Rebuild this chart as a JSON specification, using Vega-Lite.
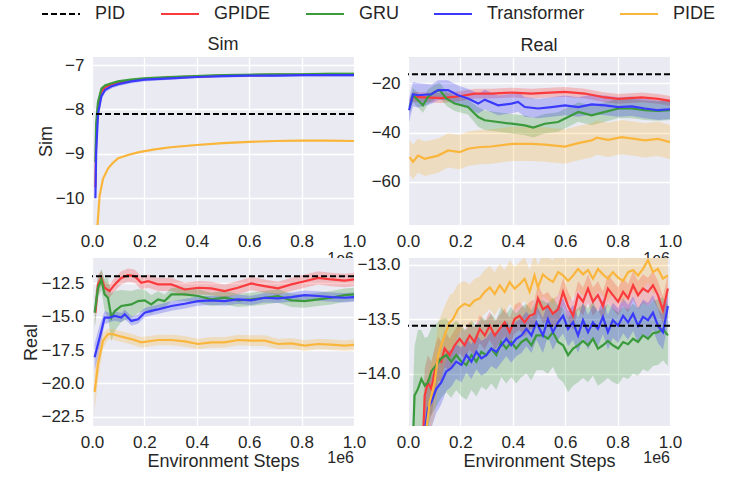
{
"$schema":"https://vega.github.io/schema/vega-lite/v6.json",
"padding":{"left":22,"top":-6,"right":5,"bottom":5},
"background":"white",
"datasets":{
"a":[
{"m":"GPIDE","x":0.013,"y":-9.75,"lo":-9.85,"hi":-9.65},{"m":"GPIDE","x":0.016,"y":-8.6,"lo":-8.68,"hi":-8.52},{"m":"GPIDE","x":0.023,"y":-7.95,"lo":-7.99,"hi":-7.91},{"m":"GPIDE","x":0.036,"y":-7.6,"lo":-7.63,"hi":-7.57},{"m":"GPIDE","x":0.05,"y":-7.5,"lo":-7.52,"hi":-7.48},{"m":"GPIDE","x":0.075,"y":-7.44,"lo":-7.46,"hi":-7.42},{"m":"GPIDE","x":0.1,"y":-7.4,"lo":-7.42,"hi":-7.38},{"m":"GPIDE","x":0.15,"y":-7.35,"lo":-7.37,"hi":-7.33},{"m":"GPIDE","x":0.2,"y":-7.32,"lo":-7.34,"hi":-7.3},{"m":"GPIDE","x":0.3,"y":-7.28,"lo":-7.3,"hi":-7.26},{"m":"GPIDE","x":0.4,"y":-7.26,"lo":-7.28,"hi":-7.24},{"m":"GPIDE","x":0.5,"y":-7.24,"lo":-7.26,"hi":-7.22},{"m":"GPIDE","x":0.6,"y":-7.23,"lo":-7.25,"hi":-7.21},{"m":"GPIDE","x":0.7,"y":-7.22,"lo":-7.24,"hi":-7.2},{"m":"GPIDE","x":0.8,"y":-7.22,"lo":-7.24,"hi":-7.2},{"m":"GPIDE","x":0.9,"y":-7.22,"lo":-7.24,"hi":-7.2},{"m":"GPIDE","x":1.0,"y":-7.22,"lo":-7.24,"hi":-7.2},
{"m":"GRU","x":0.013,"y":-9.19,"lo":-9.3,"hi":-9.08},{"m":"GRU","x":0.016,"y":-8.3,"lo":-8.4,"hi":-8.2},{"m":"GRU","x":0.023,"y":-7.83,"lo":-7.88,"hi":-7.78},{"m":"GRU","x":0.036,"y":-7.53,"lo":-7.57,"hi":-7.49},{"m":"GRU","x":0.05,"y":-7.46,"lo":-7.49,"hi":-7.43},{"m":"GRU","x":0.075,"y":-7.41,"lo":-7.44,"hi":-7.38},{"m":"GRU","x":0.1,"y":-7.37,"lo":-7.4,"hi":-7.34},{"m":"GRU","x":0.15,"y":-7.33,"lo":-7.36,"hi":-7.3},{"m":"GRU","x":0.2,"y":-7.3,"lo":-7.33,"hi":-7.27},{"m":"GRU","x":0.3,"y":-7.27,"lo":-7.3,"hi":-7.24},{"m":"GRU","x":0.4,"y":-7.25,"lo":-7.28,"hi":-7.22},{"m":"GRU","x":0.5,"y":-7.23,"lo":-7.26,"hi":-7.2},{"m":"GRU","x":0.6,"y":-7.22,"lo":-7.25,"hi":-7.19},{"m":"GRU","x":0.7,"y":-7.21,"lo":-7.24,"hi":-7.18},{"m":"GRU","x":0.8,"y":-7.21,"lo":-7.24,"hi":-7.18},{"m":"GRU","x":0.9,"y":-7.2,"lo":-7.23,"hi":-7.17},{"m":"GRU","x":1.0,"y":-7.2,"lo":-7.23,"hi":-7.17},
{"m":"Transformer","x":0.013,"y":-10.0,"lo":-10.25,"hi":-9.75},{"m":"Transformer","x":0.016,"y":-8.95,"lo":-9.15,"hi":-8.75},{"m":"Transformer","x":0.023,"y":-8.1,"lo":-8.2,"hi":-8.0},{"m":"Transformer","x":0.036,"y":-7.7,"lo":-7.78,"hi":-7.62},{"m":"Transformer","x":0.05,"y":-7.56,"lo":-7.62,"hi":-7.5},{"m":"Transformer","x":0.075,"y":-7.48,"lo":-7.53,"hi":-7.43},{"m":"Transformer","x":0.1,"y":-7.43,"lo":-7.48,"hi":-7.38},{"m":"Transformer","x":0.15,"y":-7.37,"lo":-7.41,"hi":-7.33},{"m":"Transformer","x":0.2,"y":-7.33,"lo":-7.37,"hi":-7.29},{"m":"Transformer","x":0.3,"y":-7.3,"lo":-7.33,"hi":-7.27},{"m":"Transformer","x":0.4,"y":-7.27,"lo":-7.3,"hi":-7.24},{"m":"Transformer","x":0.5,"y":-7.25,"lo":-7.28,"hi":-7.22},{"m":"Transformer","x":0.6,"y":-7.24,"lo":-7.27,"hi":-7.21},{"m":"Transformer","x":0.7,"y":-7.24,"lo":-7.27,"hi":-7.21},{"m":"Transformer","x":0.8,"y":-7.23,"lo":-7.26,"hi":-7.2},{"m":"Transformer","x":0.9,"y":-7.23,"lo":-7.26,"hi":-7.2},{"m":"Transformer","x":1.0,"y":-7.23,"lo":-7.26,"hi":-7.2},
{"m":"PIDE","x":0.015,"y":-11.3,"lo":-11.33,"hi":-11.27},{"m":"PIDE","x":0.02,"y":-10.7,"lo":-10.73,"hi":-10.67},{"m":"PIDE","x":0.029,"y":-9.94,"lo":-9.97,"hi":-9.91},{"m":"PIDE","x":0.042,"y":-9.56,"lo":-9.58,"hi":-9.54},{"m":"PIDE","x":0.061,"y":-9.33,"lo":-9.35,"hi":-9.31},{"m":"PIDE","x":0.08,"y":-9.2,"lo":-9.22,"hi":-9.18},{"m":"PIDE","x":0.1,"y":-9.1,"lo":-9.12,"hi":-9.08},{"m":"PIDE","x":0.14,"y":-9.02,"lo":-9.04,"hi":-9.0},{"m":"PIDE","x":0.18,"y":-8.96,"lo":-8.98,"hi":-8.94},{"m":"PIDE","x":0.24,"y":-8.9,"lo":-8.92,"hi":-8.88},{"m":"PIDE","x":0.3,"y":-8.85,"lo":-8.87,"hi":-8.83},{"m":"PIDE","x":0.4,"y":-8.8,"lo":-8.82,"hi":-8.78},{"m":"PIDE","x":0.5,"y":-8.76,"lo":-8.78,"hi":-8.74},{"m":"PIDE","x":0.6,"y":-8.73,"lo":-8.75,"hi":-8.71},{"m":"PIDE","x":0.7,"y":-8.71,"lo":-8.73,"hi":-8.69},{"m":"PIDE","x":0.8,"y":-8.7,"lo":-8.72,"hi":-8.68},{"m":"PIDE","x":0.9,"y":-8.7,"lo":-8.72,"hi":-8.68},{"m":"PIDE","x":1.0,"y":-8.71,"lo":-8.73,"hi":-8.69}
],
"b":[
{"m":"GPIDE","x":0.009,"y":-27.5,"lo":-29.5,"hi":-25.5},{"m":"GPIDE","x":0.019,"y":-25.5,"lo":-27.5,"hi":-23.5},{"m":"GPIDE","x":0.064,"y":-25.7,"lo":-27.7,"hi":-23.7},{"m":"GPIDE","x":0.127,"y":-26.0,"lo":-28.0,"hi":-24.0},{"m":"GPIDE","x":0.197,"y":-25.2,"lo":-27.2,"hi":-23.2},{"m":"GPIDE","x":0.255,"y":-24.1,"lo":-26.1,"hi":-22.1},{"m":"GPIDE","x":0.318,"y":-24.1,"lo":-26.1,"hi":-22.1},{"m":"GPIDE","x":0.399,"y":-23.7,"lo":-25.7,"hi":-21.7},{"m":"GPIDE","x":0.471,"y":-24.1,"lo":-26.1,"hi":-22.1},{"m":"GPIDE","x":0.522,"y":-23.8,"lo":-25.8,"hi":-21.8},{"m":"GPIDE","x":0.599,"y":-23.4,"lo":-25.4,"hi":-21.4},{"m":"GPIDE","x":0.675,"y":-24.1,"lo":-26.1,"hi":-22.1},{"m":"GPIDE","x":0.752,"y":-25.7,"lo":-27.7,"hi":-23.7},{"m":"GPIDE","x":0.803,"y":-26.3,"lo":-28.3,"hi":-24.3},{"m":"GPIDE","x":0.892,"y":-25.7,"lo":-27.7,"hi":-23.7},{"m":"GPIDE","x":0.955,"y":-26.3,"lo":-28.3,"hi":-24.3},{"m":"GPIDE","x":1.0,"y":-27.1,"lo":-29.1,"hi":-25.1},
{"m":"GRU","x":0.006,"y":-29.6,"lo":-32.6,"hi":-26.6},{"m":"GRU","x":0.019,"y":-24.8,"lo":-27.8,"hi":-21.8},{"m":"GRU","x":0.038,"y":-26.8,"lo":-29.8,"hi":-23.8},{"m":"GRU","x":0.057,"y":-28.9,"lo":-31.9,"hi":-25.9},{"m":"GRU","x":0.076,"y":-25.5,"lo":-28.5,"hi":-22.5},{"m":"GRU","x":0.102,"y":-23.4,"lo":-26.4,"hi":-20.4},{"m":"GRU","x":0.121,"y":-22.7,"lo":-25.7,"hi":-19.7},{"m":"GRU","x":0.146,"y":-26.1,"lo":-29.1,"hi":-23.1},{"m":"GRU","x":0.178,"y":-28.2,"lo":-31.2,"hi":-25.2},{"m":"GRU","x":0.229,"y":-29.6,"lo":-32.6,"hi":-26.6},{"m":"GRU","x":0.268,"y":-33.7,"lo":-37.7,"hi":-29.7},{"m":"GRU","x":0.293,"y":-35.0,"lo":-39.0,"hi":-31.0},{"m":"GRU","x":0.344,"y":-35.7,"lo":-39.7,"hi":-31.7},{"m":"GRU","x":0.395,"y":-36.4,"lo":-40.4,"hi":-32.4},{"m":"GRU","x":0.446,"y":-37.1,"lo":-41.1,"hi":-33.1},{"m":"GRU","x":0.478,"y":-38.0,"lo":-42.0,"hi":-34.0},{"m":"GRU","x":0.522,"y":-36.4,"lo":-40.4,"hi":-32.4},{"m":"GRU","x":0.573,"y":-35.7,"lo":-39.7,"hi":-31.7},{"m":"GRU","x":0.611,"y":-33.7,"lo":-37.7,"hi":-29.7},{"m":"GRU","x":0.65,"y":-31.6,"lo":-35.6,"hi":-27.6},{"m":"GRU","x":0.701,"y":-33.0,"lo":-37.0,"hi":-29.0},{"m":"GRU","x":0.752,"y":-31.6,"lo":-35.6,"hi":-27.6},{"m":"GRU","x":0.803,"y":-30.2,"lo":-34.2,"hi":-26.2},{"m":"GRU","x":0.854,"y":-30.2,"lo":-34.2,"hi":-26.2},{"m":"GRU","x":0.904,"y":-30.9,"lo":-34.9,"hi":-26.9},{"m":"GRU","x":0.955,"y":-31.2,"lo":-35.2,"hi":-27.2},{"m":"GRU","x":1.0,"y":-30.9,"lo":-34.9,"hi":-26.9},
{"m":"Transformer","x":0.004,"y":-30.9,"lo":-35.9,"hi":-25.9},{"m":"Transformer","x":0.019,"y":-24.4,"lo":-29.4,"hi":-19.4},{"m":"Transformer","x":0.038,"y":-24.8,"lo":-29.8,"hi":-19.8},{"m":"Transformer","x":0.089,"y":-24.4,"lo":-28.4,"hi":-20.4},{"m":"Transformer","x":0.115,"y":-22.7,"lo":-26.7,"hi":-18.7},{"m":"Transformer","x":0.153,"y":-22.7,"lo":-26.7,"hi":-18.7},{"m":"Transformer","x":0.191,"y":-24.8,"lo":-28.8,"hi":-20.8},{"m":"Transformer","x":0.229,"y":-26.1,"lo":-30.1,"hi":-22.1},{"m":"Transformer","x":0.268,"y":-28.2,"lo":-32.2,"hi":-24.2},{"m":"Transformer","x":0.293,"y":-26.6,"lo":-30.6,"hi":-22.6},{"m":"Transformer","x":0.344,"y":-28.9,"lo":-32.9,"hi":-24.9},{"m":"Transformer","x":0.395,"y":-28.2,"lo":-32.2,"hi":-24.2},{"m":"Transformer","x":0.42,"y":-27.5,"lo":-31.5,"hi":-23.5},{"m":"Transformer","x":0.446,"y":-29.6,"lo":-33.6,"hi":-25.6},{"m":"Transformer","x":0.497,"y":-30.2,"lo":-34.2,"hi":-26.2},{"m":"Transformer","x":0.548,"y":-29.6,"lo":-33.6,"hi":-25.6},{"m":"Transformer","x":0.599,"y":-28.9,"lo":-32.9,"hi":-24.9},{"m":"Transformer","x":0.65,"y":-29.6,"lo":-33.6,"hi":-25.6},{"m":"Transformer","x":0.701,"y":-28.5,"lo":-32.5,"hi":-24.5},{"m":"Transformer","x":0.752,"y":-28.9,"lo":-32.9,"hi":-24.9},{"m":"Transformer","x":0.803,"y":-29.6,"lo":-33.6,"hi":-25.6},{"m":"Transformer","x":0.854,"y":-29.3,"lo":-33.3,"hi":-25.3},{"m":"Transformer","x":0.904,"y":-30.2,"lo":-34.2,"hi":-26.2},{"m":"Transformer","x":0.955,"y":-30.9,"lo":-34.9,"hi":-26.9},{"m":"Transformer","x":1.0,"y":-30.5,"lo":-34.5,"hi":-26.5},
{"m":"PIDE","x":0.006,"y":-50.0,"lo":-57.0,"hi":-43.0},{"m":"PIDE","x":0.019,"y":-52.0,"lo":-59.0,"hi":-45.0},{"m":"PIDE","x":0.038,"y":-49.4,"lo":-56.4,"hi":-42.4},{"m":"PIDE","x":0.064,"y":-50.7,"lo":-57.7,"hi":-43.7},{"m":"PIDE","x":0.115,"y":-49.4,"lo":-56.4,"hi":-42.4},{"m":"PIDE","x":0.153,"y":-47.3,"lo":-54.3,"hi":-40.3},{"m":"PIDE","x":0.197,"y":-48.0,"lo":-55.0,"hi":-41.0},{"m":"PIDE","x":0.229,"y":-46.6,"lo":-53.6,"hi":-39.6},{"m":"PIDE","x":0.268,"y":-46.0,"lo":-53.0,"hi":-39.0},{"m":"PIDE","x":0.318,"y":-45.7,"lo":-52.7,"hi":-38.7},{"m":"PIDE","x":0.399,"y":-44.6,"lo":-51.6,"hi":-37.6},{"m":"PIDE","x":0.471,"y":-44.6,"lo":-51.6,"hi":-37.6},{"m":"PIDE","x":0.522,"y":-44.9,"lo":-51.9,"hi":-37.9},{"m":"PIDE","x":0.599,"y":-45.7,"lo":-52.7,"hi":-38.7},{"m":"PIDE","x":0.65,"y":-44.3,"lo":-51.3,"hi":-37.3},{"m":"PIDE","x":0.701,"y":-43.2,"lo":-50.2,"hi":-36.2},{"m":"PIDE","x":0.72,"y":-42.1,"lo":-49.1,"hi":-35.1},{"m":"PIDE","x":0.764,"y":-43.0,"lo":-50.0,"hi":-36.0},{"m":"PIDE","x":0.815,"y":-41.9,"lo":-48.9,"hi":-34.9},{"m":"PIDE","x":0.866,"y":-42.6,"lo":-49.6,"hi":-35.6},{"m":"PIDE","x":0.904,"y":-43.2,"lo":-50.2,"hi":-36.2},{"m":"PIDE","x":0.955,"y":-42.6,"lo":-49.6,"hi":-35.6},{"m":"PIDE","x":1.0,"y":-43.9,"lo":-50.9,"hi":-36.9}
],
"c":[
{"m":"GPIDE","x":0.013,"y":-14.68,"lo":-15.68,"hi":-13.68},{"m":"GPIDE","x":0.023,"y":-12.57,"lo":-13.3,"hi":-11.84},{"m":"GPIDE","x":0.036,"y":-12.08,"lo":-12.6,"hi":-11.56},{"m":"GPIDE","x":0.048,"y":-12.82,"lo":-13.32,"hi":-12.32},{"m":"GPIDE","x":0.067,"y":-13.07,"lo":-13.57,"hi":-12.57},{"m":"GPIDE","x":0.087,"y":-12.57,"lo":-13.07,"hi":-12.07},{"m":"GPIDE","x":0.112,"y":-12.08,"lo":-12.58,"hi":-11.58},{"m":"GPIDE","x":0.137,"y":-11.88,"lo":-12.38,"hi":-11.38},{"m":"GPIDE","x":0.163,"y":-11.95,"lo":-12.45,"hi":-11.45},{"m":"GPIDE","x":0.188,"y":-12.45,"lo":-12.95,"hi":-11.95},{"m":"GPIDE","x":0.214,"y":-12.33,"lo":-12.83,"hi":-11.83},{"m":"GPIDE","x":0.252,"y":-12.57,"lo":-13.07,"hi":-12.07},{"m":"GPIDE","x":0.303,"y":-12.57,"lo":-13.07,"hi":-12.07},{"m":"GPIDE","x":0.354,"y":-12.95,"lo":-13.45,"hi":-12.45},{"m":"GPIDE","x":0.405,"y":-12.82,"lo":-13.32,"hi":-12.32},{"m":"GPIDE","x":0.455,"y":-12.87,"lo":-13.37,"hi":-12.37},{"m":"GPIDE","x":0.506,"y":-13.07,"lo":-13.57,"hi":-12.57},{"m":"GPIDE","x":0.557,"y":-12.82,"lo":-13.32,"hi":-12.32},{"m":"GPIDE","x":0.608,"y":-12.5,"lo":-13.0,"hi":-12.0},{"m":"GPIDE","x":0.659,"y":-12.7,"lo":-13.2,"hi":-12.2},{"m":"GPIDE","x":0.71,"y":-12.87,"lo":-13.37,"hi":-12.37},{"m":"GPIDE","x":0.761,"y":-12.57,"lo":-13.07,"hi":-12.07},{"m":"GPIDE","x":0.812,"y":-12.33,"lo":-12.83,"hi":-11.83},{"m":"GPIDE","x":0.863,"y":-12.08,"lo":-12.58,"hi":-11.58},{"m":"GPIDE","x":0.913,"y":-12.2,"lo":-12.7,"hi":-11.7},{"m":"GPIDE","x":0.964,"y":-12.28,"lo":-12.78,"hi":-11.78},{"m":"GPIDE","x":1.0,"y":-12.2,"lo":-12.7,"hi":-11.7},
{"m":"GRU","x":0.01,"y":-14.68,"lo":-15.88,"hi":-13.48},{"m":"GRU","x":0.023,"y":-12.82,"lo":-13.62,"hi":-12.02},{"m":"GRU","x":0.036,"y":-12.2,"lo":-13.0,"hi":-11.4},{"m":"GRU","x":0.048,"y":-13.32,"lo":-14.52,"hi":-12.12},{"m":"GRU","x":0.061,"y":-13.57,"lo":-15.07,"hi":-12.07},{"m":"GRU","x":0.074,"y":-15.06,"lo":-16.86,"hi":-13.26},{"m":"GRU","x":0.087,"y":-14.57,"lo":-16.07,"hi":-13.07},{"m":"GRU","x":0.112,"y":-14.19,"lo":-15.39,"hi":-12.99},{"m":"GRU","x":0.15,"y":-14.07,"lo":-15.07,"hi":-13.07},{"m":"GRU","x":0.176,"y":-13.82,"lo":-14.72,"hi":-12.92},{"m":"GRU","x":0.201,"y":-13.77,"lo":-14.57,"hi":-12.97},{"m":"GRU","x":0.226,"y":-14.07,"lo":-14.77,"hi":-13.37},{"m":"GRU","x":0.252,"y":-13.69,"lo":-14.29,"hi":-13.09},{"m":"GRU","x":0.277,"y":-13.82,"lo":-14.32,"hi":-13.32},{"m":"GRU","x":0.303,"y":-13.32,"lo":-13.82,"hi":-12.82},{"m":"GRU","x":0.354,"y":-13.32,"lo":-13.82,"hi":-12.82},{"m":"GRU","x":0.405,"y":-13.44,"lo":-13.94,"hi":-12.94},{"m":"GRU","x":0.455,"y":-13.69,"lo":-14.19,"hi":-13.19},{"m":"GRU","x":0.506,"y":-13.57,"lo":-14.07,"hi":-13.07},{"m":"GRU","x":0.557,"y":-13.77,"lo":-14.27,"hi":-13.27},{"m":"GRU","x":0.608,"y":-13.69,"lo":-14.19,"hi":-13.19},{"m":"GRU","x":0.659,"y":-13.57,"lo":-14.07,"hi":-13.07},{"m":"GRU","x":0.71,"y":-13.44,"lo":-13.94,"hi":-12.94},{"m":"GRU","x":0.761,"y":-13.77,"lo":-14.27,"hi":-13.27},{"m":"GRU","x":0.812,"y":-13.82,"lo":-14.32,"hi":-13.32},{"m":"GRU","x":0.863,"y":-13.69,"lo":-14.19,"hi":-13.19},{"m":"GRU","x":0.913,"y":-13.57,"lo":-14.07,"hi":-13.07},{"m":"GRU","x":0.964,"y":-13.37,"lo":-13.87,"hi":-12.87},{"m":"GRU","x":1.0,"y":-13.32,"lo":-13.82,"hi":-12.82},
{"m":"Transformer","x":0.01,"y":-18.03,"lo":-19.03,"hi":-17.03},{"m":"Transformer","x":0.023,"y":-17.04,"lo":-18.04,"hi":-16.04},{"m":"Transformer","x":0.036,"y":-16.05,"lo":-16.85,"hi":-15.25},{"m":"Transformer","x":0.048,"y":-15.06,"lo":-15.56,"hi":-14.56},{"m":"Transformer","x":0.067,"y":-15.06,"lo":-15.41,"hi":-14.71},{"m":"Transformer","x":0.087,"y":-14.94,"lo":-15.29,"hi":-14.59},{"m":"Transformer","x":0.112,"y":-15.06,"lo":-15.41,"hi":-14.71},{"m":"Transformer","x":0.125,"y":-14.81,"lo":-15.16,"hi":-14.46},{"m":"Transformer","x":0.15,"y":-15.31,"lo":-15.66,"hi":-14.96},{"m":"Transformer","x":0.176,"y":-15.18,"lo":-15.53,"hi":-14.83},{"m":"Transformer","x":0.201,"y":-14.69,"lo":-15.04,"hi":-14.34},{"m":"Transformer","x":0.226,"y":-14.56,"lo":-14.91,"hi":-14.21},{"m":"Transformer","x":0.252,"y":-14.44,"lo":-14.79,"hi":-14.09},{"m":"Transformer","x":0.303,"y":-14.19,"lo":-14.54,"hi":-13.84},{"m":"Transformer","x":0.354,"y":-14.02,"lo":-14.37,"hi":-13.67},{"m":"Transformer","x":0.405,"y":-13.82,"lo":-14.17,"hi":-13.47},{"m":"Transformer","x":0.455,"y":-13.77,"lo":-14.12,"hi":-13.42},{"m":"Transformer","x":0.506,"y":-13.82,"lo":-14.17,"hi":-13.47},{"m":"Transformer","x":0.557,"y":-13.69,"lo":-14.04,"hi":-13.34},{"m":"Transformer","x":0.608,"y":-13.77,"lo":-14.12,"hi":-13.42},{"m":"Transformer","x":0.659,"y":-13.57,"lo":-13.92,"hi":-13.22},{"m":"Transformer","x":0.71,"y":-13.62,"lo":-13.97,"hi":-13.27},{"m":"Transformer","x":0.761,"y":-13.52,"lo":-13.87,"hi":-13.17},{"m":"Transformer","x":0.812,"y":-13.37,"lo":-13.72,"hi":-13.02},{"m":"Transformer","x":0.863,"y":-13.44,"lo":-13.79,"hi":-13.09},{"m":"Transformer","x":0.913,"y":-13.52,"lo":-13.87,"hi":-13.17},{"m":"Transformer","x":0.964,"y":-13.57,"lo":-13.92,"hi":-13.22},{"m":"Transformer","x":1.0,"y":-13.52,"lo":-13.87,"hi":-13.17},
{"m":"PIDE","x":0.01,"y":-20.64,"lo":-22.14,"hi":-19.14},{"m":"PIDE","x":0.023,"y":-18.53,"lo":-19.73,"hi":-17.33},{"m":"PIDE","x":0.042,"y":-16.79,"lo":-17.39,"hi":-16.19},{"m":"PIDE","x":0.061,"y":-16.3,"lo":-16.7,"hi":-15.9},{"m":"PIDE","x":0.08,"y":-16.3,"lo":-16.7,"hi":-15.9},{"m":"PIDE","x":0.099,"y":-16.42,"lo":-16.82,"hi":-16.02},{"m":"PIDE","x":0.15,"y":-16.67,"lo":-17.07,"hi":-16.27},{"m":"PIDE","x":0.188,"y":-16.92,"lo":-17.32,"hi":-16.52},{"m":"PIDE","x":0.252,"y":-16.74,"lo":-17.14,"hi":-16.34},{"m":"PIDE","x":0.303,"y":-16.74,"lo":-17.14,"hi":-16.34},{"m":"PIDE","x":0.354,"y":-16.84,"lo":-17.24,"hi":-16.44},{"m":"PIDE","x":0.405,"y":-17.04,"lo":-17.44,"hi":-16.64},{"m":"PIDE","x":0.455,"y":-16.92,"lo":-17.32,"hi":-16.52},{"m":"PIDE","x":0.506,"y":-16.92,"lo":-17.32,"hi":-16.52},{"m":"PIDE","x":0.557,"y":-16.74,"lo":-17.14,"hi":-16.34},{"m":"PIDE","x":0.608,"y":-16.79,"lo":-17.19,"hi":-16.39},{"m":"PIDE","x":0.659,"y":-16.79,"lo":-17.19,"hi":-16.39},{"m":"PIDE","x":0.71,"y":-17.04,"lo":-17.44,"hi":-16.64},{"m":"PIDE","x":0.761,"y":-16.99,"lo":-17.39,"hi":-16.59},{"m":"PIDE","x":0.812,"y":-17.16,"lo":-17.56,"hi":-16.76},{"m":"PIDE","x":0.863,"y":-17.04,"lo":-17.44,"hi":-16.64},{"m":"PIDE","x":0.913,"y":-17.09,"lo":-17.49,"hi":-16.69},{"m":"PIDE","x":0.964,"y":-17.16,"lo":-17.56,"hi":-16.76},{"m":"PIDE","x":1.0,"y":-17.11,"lo":-17.51,"hi":-16.71}
],
"d":[
{"m":"GPIDE","x":0.057,"y":-14.6,"lo":-14.85,"hi":-14.35},{"m":"GPIDE","x":0.064,"y":-14.2,"lo":-14.45,"hi":-13.95},{"m":"GPIDE","x":0.076,"y":-14.08,"lo":-14.33,"hi":-13.83},{"m":"GPIDE","x":0.089,"y":-14.14,"lo":-14.39,"hi":-13.89},{"m":"GPIDE","x":0.102,"y":-13.98,"lo":-14.2,"hi":-13.76},{"m":"GPIDE","x":0.115,"y":-13.86,"lo":-14.06,"hi":-13.66},{"m":"GPIDE","x":0.127,"y":-13.89,"lo":-14.07,"hi":-13.71},{"m":"GPIDE","x":0.14,"y":-13.77,"lo":-13.94,"hi":-13.6},{"m":"GPIDE","x":0.159,"y":-13.83,"lo":-13.98,"hi":-13.68},{"m":"GPIDE","x":0.178,"y":-13.74,"lo":-13.88,"hi":-13.6},{"m":"GPIDE","x":0.197,"y":-13.68,"lo":-13.81,"hi":-13.55},{"m":"GPIDE","x":0.216,"y":-13.74,"lo":-13.87,"hi":-13.61},{"m":"GPIDE","x":0.235,"y":-13.65,"lo":-13.78,"hi":-13.52},{"m":"GPIDE","x":0.254,"y":-13.71,"lo":-13.84,"hi":-13.58},{"m":"GPIDE","x":0.274,"y":-13.59,"lo":-13.72,"hi":-13.46},{"m":"GPIDE","x":0.293,"y":-13.65,"lo":-13.78,"hi":-13.52},{"m":"GPIDE","x":0.312,"y":-13.56,"lo":-13.69,"hi":-13.43},{"m":"GPIDE","x":0.331,"y":-13.65,"lo":-13.78,"hi":-13.52},{"m":"GPIDE","x":0.35,"y":-13.59,"lo":-13.72,"hi":-13.46},{"m":"GPIDE","x":0.369,"y":-13.53,"lo":-13.66,"hi":-13.4},{"m":"GPIDE","x":0.388,"y":-13.62,"lo":-13.75,"hi":-13.49},{"m":"GPIDE","x":0.407,"y":-13.5,"lo":-13.63,"hi":-13.37},{"m":"GPIDE","x":0.426,"y":-13.47,"lo":-13.6,"hi":-13.34},{"m":"GPIDE","x":0.445,"y":-13.53,"lo":-13.66,"hi":-13.4},{"m":"GPIDE","x":0.464,"y":-13.47,"lo":-13.6,"hi":-13.34},{"m":"GPIDE","x":0.483,"y":-13.45,"lo":-13.58,"hi":-13.32},{"m":"GPIDE","x":0.496,"y":-13.31,"lo":-13.44,"hi":-13.18},{"m":"GPIDE","x":0.515,"y":-13.41,"lo":-13.54,"hi":-13.28},{"m":"GPIDE","x":0.534,"y":-13.38,"lo":-13.51,"hi":-13.25},{"m":"GPIDE","x":0.553,"y":-13.45,"lo":-13.58,"hi":-13.32},{"m":"GPIDE","x":0.573,"y":-13.41,"lo":-13.54,"hi":-13.28},{"m":"GPIDE","x":0.592,"y":-13.25,"lo":-13.38,"hi":-13.12},{"m":"GPIDE","x":0.611,"y":-13.38,"lo":-13.51,"hi":-13.25},{"m":"GPIDE","x":0.63,"y":-13.47,"lo":-13.6,"hi":-13.34},{"m":"GPIDE","x":0.649,"y":-13.28,"lo":-13.41,"hi":-13.15},{"m":"GPIDE","x":0.668,"y":-13.34,"lo":-13.47,"hi":-13.21},{"m":"GPIDE","x":0.687,"y":-13.22,"lo":-13.35,"hi":-13.09},{"m":"GPIDE","x":0.706,"y":-13.34,"lo":-13.47,"hi":-13.21},{"m":"GPIDE","x":0.725,"y":-13.28,"lo":-13.41,"hi":-13.15},{"m":"GPIDE","x":0.744,"y":-13.38,"lo":-13.51,"hi":-13.25},{"m":"GPIDE","x":0.763,"y":-13.22,"lo":-13.35,"hi":-13.09},{"m":"GPIDE","x":0.782,"y":-13.28,"lo":-13.41,"hi":-13.15},{"m":"GPIDE","x":0.802,"y":-13.34,"lo":-13.47,"hi":-13.21},{"m":"GPIDE","x":0.821,"y":-13.25,"lo":-13.38,"hi":-13.12},{"m":"GPIDE","x":0.84,"y":-13.31,"lo":-13.44,"hi":-13.18},{"m":"GPIDE","x":0.859,"y":-13.19,"lo":-13.32,"hi":-13.06},{"m":"GPIDE","x":0.878,"y":-13.28,"lo":-13.41,"hi":-13.15},{"m":"GPIDE","x":0.897,"y":-13.22,"lo":-13.35,"hi":-13.09},{"m":"GPIDE","x":0.916,"y":-13.25,"lo":-13.38,"hi":-13.12},{"m":"GPIDE","x":0.935,"y":-13.19,"lo":-13.32,"hi":-13.06},{"m":"GPIDE","x":0.954,"y":-13.28,"lo":-13.41,"hi":-13.15},{"m":"GPIDE","x":0.973,"y":-13.42,"lo":-13.55,"hi":-13.29},{"m":"GPIDE","x":0.992,"y":-13.22,"lo":-13.35,"hi":-13.09},
{"m":"GRU","x":0.019,"y":-14.6,"lo":-15.05,"hi":-14.15},{"m":"GRU","x":0.025,"y":-14.2,"lo":-14.65,"hi":-13.75},{"m":"GRU","x":0.038,"y":-14.14,"lo":-14.59,"hi":-13.6},{"m":"GRU","x":0.051,"y":-14.05,"lo":-14.5,"hi":-13.6},{"m":"GRU","x":0.064,"y":-14.11,"lo":-14.55,"hi":-13.67},{"m":"GRU","x":0.076,"y":-14.08,"lo":-14.5,"hi":-13.66},{"m":"GRU","x":0.089,"y":-13.98,"lo":-14.38,"hi":-13.58},{"m":"GRU","x":0.108,"y":-13.92,"lo":-14.3,"hi":-13.54},{"m":"GRU","x":0.127,"y":-13.86,"lo":-14.22,"hi":-13.5},{"m":"GRU","x":0.146,"y":-13.83,"lo":-14.17,"hi":-13.49},{"m":"GRU","x":0.165,"y":-13.89,"lo":-14.22,"hi":-13.56},{"m":"GRU","x":0.184,"y":-13.83,"lo":-14.15,"hi":-13.51},{"m":"GRU","x":0.204,"y":-13.89,"lo":-14.21,"hi":-13.57},{"m":"GRU","x":0.223,"y":-13.92,"lo":-14.24,"hi":-13.6},{"m":"GRU","x":0.242,"y":-13.83,"lo":-14.15,"hi":-13.51},{"m":"GRU","x":0.261,"y":-13.89,"lo":-14.21,"hi":-13.57},{"m":"GRU","x":0.28,"y":-13.8,"lo":-14.12,"hi":-13.48},{"m":"GRU","x":0.299,"y":-13.83,"lo":-14.15,"hi":-13.51},{"m":"GRU","x":0.318,"y":-13.77,"lo":-14.09,"hi":-13.45},{"m":"GRU","x":0.337,"y":-13.83,"lo":-14.15,"hi":-13.51},{"m":"GRU","x":0.356,"y":-13.71,"lo":-14.03,"hi":-13.39},{"m":"GRU","x":0.375,"y":-13.77,"lo":-14.09,"hi":-13.45},{"m":"GRU","x":0.394,"y":-13.71,"lo":-14.03,"hi":-13.39},{"m":"GRU","x":0.413,"y":-13.77,"lo":-14.09,"hi":-13.45},{"m":"GRU","x":0.433,"y":-13.71,"lo":-14.03,"hi":-13.39},{"m":"GRU","x":0.452,"y":-13.68,"lo":-14.0,"hi":-13.36},{"m":"GRU","x":0.471,"y":-13.74,"lo":-14.06,"hi":-13.42},{"m":"GRU","x":0.49,"y":-13.65,"lo":-13.97,"hi":-13.33},{"m":"GRU","x":0.515,"y":-13.65,"lo":-13.97,"hi":-13.33},{"m":"GRU","x":0.534,"y":-13.68,"lo":-14.0,"hi":-13.36},{"m":"GRU","x":0.553,"y":-13.62,"lo":-13.94,"hi":-13.3},{"m":"GRU","x":0.573,"y":-13.71,"lo":-14.04,"hi":-13.38},{"m":"GRU","x":0.592,"y":-13.74,"lo":-14.08,"hi":-13.4},{"m":"GRU","x":0.611,"y":-13.83,"lo":-14.17,"hi":-13.49},{"m":"GRU","x":0.63,"y":-13.77,"lo":-14.11,"hi":-13.43},{"m":"GRU","x":0.649,"y":-13.74,"lo":-14.08,"hi":-13.4},{"m":"GRU","x":0.668,"y":-13.7,"lo":-14.04,"hi":-13.36},{"m":"GRU","x":0.687,"y":-13.74,"lo":-14.08,"hi":-13.4},{"m":"GRU","x":0.706,"y":-13.68,"lo":-14.02,"hi":-13.34},{"m":"GRU","x":0.725,"y":-13.77,"lo":-14.11,"hi":-13.43},{"m":"GRU","x":0.744,"y":-13.74,"lo":-14.08,"hi":-13.4},{"m":"GRU","x":0.763,"y":-13.7,"lo":-14.04,"hi":-13.36},{"m":"GRU","x":0.782,"y":-13.74,"lo":-14.08,"hi":-13.4},{"m":"GRU","x":0.802,"y":-13.77,"lo":-14.1,"hi":-13.44},{"m":"GRU","x":0.821,"y":-13.71,"lo":-14.03,"hi":-13.39},{"m":"GRU","x":0.84,"y":-13.73,"lo":-14.05,"hi":-13.41},{"m":"GRU","x":0.859,"y":-13.68,"lo":-14.0,"hi":-13.36},{"m":"GRU","x":0.878,"y":-13.71,"lo":-14.02,"hi":-13.4},{"m":"GRU","x":0.897,"y":-13.65,"lo":-13.96,"hi":-13.34},{"m":"GRU","x":0.916,"y":-13.68,"lo":-13.98,"hi":-13.38},{"m":"GRU","x":0.935,"y":-13.63,"lo":-13.93,"hi":-13.33},{"m":"GRU","x":0.954,"y":-13.62,"lo":-13.92,"hi":-13.32},{"m":"GRU","x":0.973,"y":-13.59,"lo":-13.88,"hi":-13.3},{"m":"GRU","x":0.992,"y":-13.65,"lo":-13.93,"hi":-13.37},
{"m":"Transformer","x":0.06,"y":-14.6,"lo":-14.85,"hi":-14.35},{"m":"Transformer","x":0.076,"y":-14.32,"lo":-14.57,"hi":-14.07},{"m":"Transformer","x":0.089,"y":-14.26,"lo":-14.5,"hi":-14.02},{"m":"Transformer","x":0.108,"y":-14.14,"lo":-14.36,"hi":-13.92},{"m":"Transformer","x":0.127,"y":-14.08,"lo":-14.28,"hi":-13.88},{"m":"Transformer","x":0.146,"y":-13.98,"lo":-14.16,"hi":-13.8},{"m":"Transformer","x":0.165,"y":-13.95,"lo":-14.12,"hi":-13.78},{"m":"Transformer","x":0.184,"y":-13.89,"lo":-14.05,"hi":-13.73},{"m":"Transformer","x":0.204,"y":-13.92,"lo":-14.08,"hi":-13.76},{"m":"Transformer","x":0.223,"y":-13.83,"lo":-13.99,"hi":-13.67},{"m":"Transformer","x":0.242,"y":-13.89,"lo":-14.05,"hi":-13.73},{"m":"Transformer","x":0.261,"y":-13.8,"lo":-13.96,"hi":-13.64},{"m":"Transformer","x":0.28,"y":-13.86,"lo":-14.02,"hi":-13.7},{"m":"Transformer","x":0.299,"y":-13.83,"lo":-13.99,"hi":-13.67},{"m":"Transformer","x":0.318,"y":-13.77,"lo":-13.93,"hi":-13.61},{"m":"Transformer","x":0.337,"y":-13.8,"lo":-13.96,"hi":-13.64},{"m":"Transformer","x":0.356,"y":-13.74,"lo":-13.9,"hi":-13.58},{"m":"Transformer","x":0.375,"y":-13.68,"lo":-13.84,"hi":-13.52},{"m":"Transformer","x":0.394,"y":-13.74,"lo":-13.9,"hi":-13.58},{"m":"Transformer","x":0.413,"y":-13.68,"lo":-13.84,"hi":-13.52},{"m":"Transformer","x":0.433,"y":-13.65,"lo":-13.81,"hi":-13.49},{"m":"Transformer","x":0.452,"y":-13.59,"lo":-13.75,"hi":-13.43},{"m":"Transformer","x":0.471,"y":-13.65,"lo":-13.81,"hi":-13.49},{"m":"Transformer","x":0.49,"y":-13.53,"lo":-13.69,"hi":-13.37},{"m":"Transformer","x":0.515,"y":-13.65,"lo":-13.81,"hi":-13.49},{"m":"Transformer","x":0.534,"y":-13.5,"lo":-13.66,"hi":-13.34},{"m":"Transformer","x":0.553,"y":-13.62,"lo":-13.78,"hi":-13.46},{"m":"Transformer","x":0.573,"y":-13.53,"lo":-13.69,"hi":-13.37},{"m":"Transformer","x":0.592,"y":-13.47,"lo":-13.63,"hi":-13.31},{"m":"Transformer","x":0.611,"y":-13.59,"lo":-13.75,"hi":-13.43},{"m":"Transformer","x":0.63,"y":-13.53,"lo":-13.69,"hi":-13.37},{"m":"Transformer","x":0.649,"y":-13.65,"lo":-13.81,"hi":-13.49},{"m":"Transformer","x":0.668,"y":-13.51,"lo":-13.67,"hi":-13.35},{"m":"Transformer","x":0.687,"y":-13.62,"lo":-13.78,"hi":-13.46},{"m":"Transformer","x":0.706,"y":-13.53,"lo":-13.69,"hi":-13.37},{"m":"Transformer","x":0.725,"y":-13.59,"lo":-13.75,"hi":-13.43},{"m":"Transformer","x":0.744,"y":-13.48,"lo":-13.64,"hi":-13.32},{"m":"Transformer","x":0.763,"y":-13.62,"lo":-13.78,"hi":-13.46},{"m":"Transformer","x":0.782,"y":-13.51,"lo":-13.67,"hi":-13.35},{"m":"Transformer","x":0.802,"y":-13.56,"lo":-13.72,"hi":-13.4},{"m":"Transformer","x":0.821,"y":-13.47,"lo":-13.63,"hi":-13.31},{"m":"Transformer","x":0.84,"y":-13.53,"lo":-13.69,"hi":-13.37},{"m":"Transformer","x":0.859,"y":-13.45,"lo":-13.61,"hi":-13.29},{"m":"Transformer","x":0.878,"y":-13.56,"lo":-13.72,"hi":-13.4},{"m":"Transformer","x":0.897,"y":-13.48,"lo":-13.64,"hi":-13.32},{"m":"Transformer","x":0.916,"y":-13.51,"lo":-13.67,"hi":-13.35},{"m":"Transformer","x":0.935,"y":-13.44,"lo":-13.6,"hi":-13.28},{"m":"Transformer","x":0.954,"y":-13.56,"lo":-13.72,"hi":-13.4},{"m":"Transformer","x":0.973,"y":-13.62,"lo":-13.78,"hi":-13.46},{"m":"Transformer","x":0.992,"y":-13.38,"lo":-13.54,"hi":-13.22},
{"m":"PIDE","x":0.065,"y":-14.6,"lo":-14.9,"hi":-14.3},{"m":"PIDE","x":0.083,"y":-14.26,"lo":-14.56,"hi":-13.96},{"m":"PIDE","x":0.102,"y":-14.08,"lo":-14.38,"hi":-13.78},{"m":"PIDE","x":0.115,"y":-13.83,"lo":-14.13,"hi":-13.53},{"m":"PIDE","x":0.127,"y":-13.74,"lo":-14.02,"hi":-13.46},{"m":"PIDE","x":0.14,"y":-13.65,"lo":-13.92,"hi":-13.38},{"m":"PIDE","x":0.159,"y":-13.53,"lo":-13.78,"hi":-13.28},{"m":"PIDE","x":0.172,"y":-13.5,"lo":-13.74,"hi":-13.26},{"m":"PIDE","x":0.191,"y":-13.41,"lo":-13.64,"hi":-13.18},{"m":"PIDE","x":0.204,"y":-13.38,"lo":-13.6,"hi":-13.16},{"m":"PIDE","x":0.216,"y":-13.36,"lo":-13.57,"hi":-13.15},{"m":"PIDE","x":0.235,"y":-13.38,"lo":-13.58,"hi":-13.18},{"m":"PIDE","x":0.254,"y":-13.33,"lo":-13.53,"hi":-13.13},{"m":"PIDE","x":0.274,"y":-13.31,"lo":-13.51,"hi":-13.11},{"m":"PIDE","x":0.293,"y":-13.25,"lo":-13.45,"hi":-13.05},{"m":"PIDE","x":0.312,"y":-13.21,"lo":-13.41,"hi":-13.01},{"m":"PIDE","x":0.331,"y":-13.27,"lo":-13.47,"hi":-13.07},{"m":"PIDE","x":0.35,"y":-13.19,"lo":-13.39,"hi":-12.99},{"m":"PIDE","x":0.369,"y":-13.25,"lo":-13.45,"hi":-13.05},{"m":"PIDE","x":0.388,"y":-13.16,"lo":-13.36,"hi":-12.96},{"m":"PIDE","x":0.407,"y":-13.22,"lo":-13.42,"hi":-13.02},{"m":"PIDE","x":0.426,"y":-13.18,"lo":-13.38,"hi":-12.98},{"m":"PIDE","x":0.445,"y":-13.13,"lo":-13.33,"hi":-12.93},{"m":"PIDE","x":0.464,"y":-13.25,"lo":-13.45,"hi":-13.05},{"m":"PIDE","x":0.483,"y":-13.1,"lo":-13.3,"hi":-12.9},{"m":"PIDE","x":0.496,"y":-13.21,"lo":-13.41,"hi":-13.01},{"m":"PIDE","x":0.515,"y":-13.09,"lo":-13.29,"hi":-12.89},{"m":"PIDE","x":0.534,"y":-13.13,"lo":-13.33,"hi":-12.93},{"m":"PIDE","x":0.553,"y":-13.16,"lo":-13.36,"hi":-12.96},{"m":"PIDE","x":0.573,"y":-13.07,"lo":-13.27,"hi":-12.87},{"m":"PIDE","x":0.592,"y":-13.1,"lo":-13.3,"hi":-12.9},{"m":"PIDE","x":0.611,"y":-13.15,"lo":-13.35,"hi":-12.95},{"m":"PIDE","x":0.63,"y":-13.1,"lo":-13.3,"hi":-12.9},{"m":"PIDE","x":0.649,"y":-13.04,"lo":-13.24,"hi":-12.84},{"m":"PIDE","x":0.668,"y":-13.09,"lo":-13.29,"hi":-12.89},{"m":"PIDE","x":0.687,"y":-13.05,"lo":-13.25,"hi":-12.85},{"m":"PIDE","x":0.706,"y":-13.13,"lo":-13.33,"hi":-12.93},{"m":"PIDE","x":0.725,"y":-13.04,"lo":-13.24,"hi":-12.84},{"m":"PIDE","x":0.744,"y":-13.09,"lo":-13.29,"hi":-12.89},{"m":"PIDE","x":0.763,"y":-13.13,"lo":-13.33,"hi":-12.93},{"m":"PIDE","x":0.782,"y":-13.07,"lo":-13.27,"hi":-12.87},{"m":"PIDE","x":0.802,"y":-13.12,"lo":-13.32,"hi":-12.92},{"m":"PIDE","x":0.821,"y":-13.15,"lo":-13.35,"hi":-12.95},{"m":"PIDE","x":0.84,"y":-13.07,"lo":-13.27,"hi":-12.87},{"m":"PIDE","x":0.859,"y":-13.05,"lo":-13.25,"hi":-12.85},{"m":"PIDE","x":0.878,"y":-13.1,"lo":-13.3,"hi":-12.9},{"m":"PIDE","x":0.897,"y":-13.04,"lo":-13.24,"hi":-12.84},{"m":"PIDE","x":0.916,"y":-12.96,"lo":-13.16,"hi":-12.76},{"m":"PIDE","x":0.935,"y":-13.07,"lo":-13.27,"hi":-12.87},{"m":"PIDE","x":0.954,"y":-13.04,"lo":-13.24,"hi":-12.84},{"m":"PIDE","x":0.973,"y":-13.13,"lo":-13.33,"hi":-12.93},{"m":"PIDE","x":0.992,"y":-13.1,"lo":-13.3,"hi":-12.9}
]
},
"columns":2,
"spacing":{"row":33,"column":54},
"bounds":"flush",
"resolve":{"scale":{"x":"independent","y":"independent","stroke":"shared","fill":"shared","strokeDash":"shared"}},
"concat":[
{"width":262,"height":168,"title":{"text":"Sim"},
"layer":[
{"data":{"name":"a"},"mark":{"type":"area","fillOpacity":0.2,"clip":true},
"encoding":{"x":{"field":"x","type":"quantitative","scale":{"domain":[0,1],"nice":false},"axis":{"values":[0,0.2,0.4,0.6,0.8,1],"format":".1f","title":null}},
"y":{"field":"lo","type":"quantitative","scale":{"domain":[-10.6,-6.82],"nice":false},"axis":{"values":[-10,-9,-8,-7],"format":"d","title":"Sim"}},
"y2":{"field":"hi"},
"fill":{"field":"m","type":"nominal","scale":{"domain":["GPIDE","GRU","Transformer","PIDE"],"range":["#FF0000","#008000","#0000FF","#FFA500"]},"legend":null}}},
{"data":{"name":"a"},"mark":{"type":"line","strokeWidth":2.2,"clip":true},
"encoding":{"x":{"field":"x","type":"quantitative"},"y":{"field":"y","type":"quantitative"},
"stroke":{"field":"m","type":"nominal","scale":{"domain":["PID","GPIDE","GRU","Transformer","PIDE"],"range":["#000000","#FA3A3C","#3A9A3C","#3A3AFC","#FAB63C"]},"legend":{"title":null,"orient":"none","legendX":-51,"legendY":-63,"direction":"horizontal","columns":5,"gridAlign":"each"}}}},
{"data":{"values":[{"m":"PID","y":-8.1}]},"mark":{"type":"rule","strokeWidth":2},
"encoding":{"y":{"field":"y","type":"quantitative"},
"stroke":{"field":"m","type":"nominal"},
"strokeDash":{"field":"m","type":"nominal","scale":{"domain":["PID","GPIDE","GRU","Transformer","PIDE"],"range":[[6,3],[1,0],[1,0],[1,0],[1,0]]},"legend":{"title":null,"orient":"none","legendX":-51,"legendY":-63,"direction":"horizontal","columns":5,"gridAlign":"each"}}}},
{"data":{"values":[{"t":"1e6"}]},"mark":{"type":"text","align":"right","baseline":"alphabetic","dy":39,"fontSize":16,"font":"Liberation Sans","color":"#262626"},
"encoding":{"x":{"datum":1},"y":{"datum":-10.6},"text":{"field":"t"}}}
]},
{"width":262,"height":168,"title":{"text":"Real"},
"layer":[
{"data":{"name":"b"},"mark":{"type":"area","fillOpacity":0.2,"clip":true},
"encoding":{"x":{"field":"x","type":"quantitative","scale":{"domain":[0,1],"nice":false},"axis":{"values":[0,0.2,0.4,0.6,0.8,1],"format":".1f","title":null}},
"y":{"field":"lo","type":"quantitative","scale":{"domain":[-77.7,-9.2],"nice":false},"axis":{"values":[-60,-40,-20],"format":"d","title":null}},
"y2":{"field":"hi"},
"fill":{"field":"m","type":"nominal","legend":null}}},
{"data":{"name":"b"},"mark":{"type":"line","strokeWidth":2.2,"clip":true},
"encoding":{"x":{"field":"x","type":"quantitative"},"y":{"field":"y","type":"quantitative"},"stroke":{"field":"m","type":"nominal"}}},
{"data":{"values":[{"m":"PID","y":-16.2}]},"mark":{"type":"rule","strokeWidth":2},
"encoding":{"y":{"field":"y","type":"quantitative"},"stroke":{"field":"m","type":"nominal"},"strokeDash":{"field":"m","type":"nominal"}}},
{"data":{"values":[{"t":"1e6"}]},"mark":{"type":"text","align":"right","baseline":"alphabetic","dy":39,"fontSize":16,"font":"Liberation Sans","color":"#262626"},
"encoding":{"x":{"datum":1},"y":{"datum":-77.7},"text":{"field":"t"}}}
]},
{"width":262,"height":168,
"layer":[
{"data":{"name":"c"},"mark":{"type":"area","fillOpacity":0.2,"clip":true},
"encoding":{"x":{"field":"x","type":"quantitative","scale":{"domain":[0,1],"nice":false},"axis":{"values":[0,0.2,0.4,0.6,0.8,1],"format":".1f","title":"Environment Steps"}},
"y":{"field":"lo","type":"quantitative","scale":{"domain":[-23.19,-10.59],"nice":false},"axis":{"values":[-22.5,-20,-17.5,-15,-12.5],"format":".1f","title":"Real"}},
"y2":{"field":"hi"},
"fill":{"field":"m","type":"nominal","legend":null}}},
{"data":{"name":"c"},"mark":{"type":"line","strokeWidth":2.2,"clip":true},
"encoding":{"x":{"field":"x","type":"quantitative"},"y":{"field":"y","type":"quantitative"},"stroke":{"field":"m","type":"nominal"}}},
{"data":{"values":[{"m":"PID","y":-11.95}]},"mark":{"type":"rule","strokeWidth":2},
"encoding":{"y":{"field":"y","type":"quantitative"},"stroke":{"field":"m","type":"nominal"},"strokeDash":{"field":"m","type":"nominal"}}},
{"data":{"values":[{"t":"1e6"}]},"mark":{"type":"text","align":"right","baseline":"alphabetic","dy":37,"fontSize":16,"font":"Liberation Sans","color":"#262626"},
"encoding":{"x":{"datum":1},"y":{"datum":-23.19},"text":{"field":"t"}}}
]},
{"width":262,"height":168,
"layer":[
{"data":{"name":"d"},"mark":{"type":"area","fillOpacity":0.2,"clip":true},
"encoding":{"x":{"field":"x","type":"quantitative","scale":{"domain":[0,1],"nice":false},"axis":{"values":[0,0.2,0.4,0.6,0.8,1],"format":".1f","title":"Environment Steps"}},
"y":{"field":"lo","type":"quantitative","scale":{"domain":[-14.48,-12.94],"nice":false},"axis":{"values":[-14,-13.5,-13],"format":".1f","title":null}},
"y2":{"field":"hi"},
"fill":{"field":"m","type":"nominal","legend":null}}},
{"data":{"name":"d"},"mark":{"type":"line","strokeWidth":2.2,"clip":true},
"encoding":{"x":{"field":"x","type":"quantitative"},"y":{"field":"y","type":"quantitative"},"stroke":{"field":"m","type":"nominal"}}},
{"data":{"values":[{"m":"PID","y":-13.56}]},"mark":{"type":"rule","strokeWidth":2},
"encoding":{"y":{"field":"y","type":"quantitative"},"stroke":{"field":"m","type":"nominal"},"strokeDash":{"field":"m","type":"nominal"}}},
{"data":{"values":[{"t":"1e6"}]},"mark":{"type":"text","align":"right","baseline":"alphabetic","dy":37,"fontSize":16,"font":"Liberation Sans","color":"#262626"},
"encoding":{"x":{"datum":1},"y":{"datum":-14.48},"text":{"field":"t"}}}
]}
],
"config":{
"view":{"fill":"#EAEAF2","stroke":null},
"font":"Liberation Sans",
"axis":{"domain":false,"ticks":false,"grid":true,"gridColor":"#FFFFFF","gridWidth":1.3,"labelFont":"Liberation Sans","labelFontSize":17,"labelColor":"#262626","labelPadding":8,"labelFlush":false,"labelOverlap":false,"titleFont":"Liberation Sans","titleFontSize":18,"titleFontWeight":"normal","titleColor":"#262626","titlePadding":0},
"axisX":{"titlePadding":2},
"title":{"font":"Liberation Sans","fontSize":18,"fontWeight":"normal","color":"#262626","offset":2},
"legend":{"labelFont":"Liberation Sans","labelFontSize":18,"labelColor":"#262626","symbolType":"stroke","symbolSize":1444,"symbolStrokeWidth":2,"labelOffset":14,"columnPadding":31,"symbolOpacity":1}
}
}
